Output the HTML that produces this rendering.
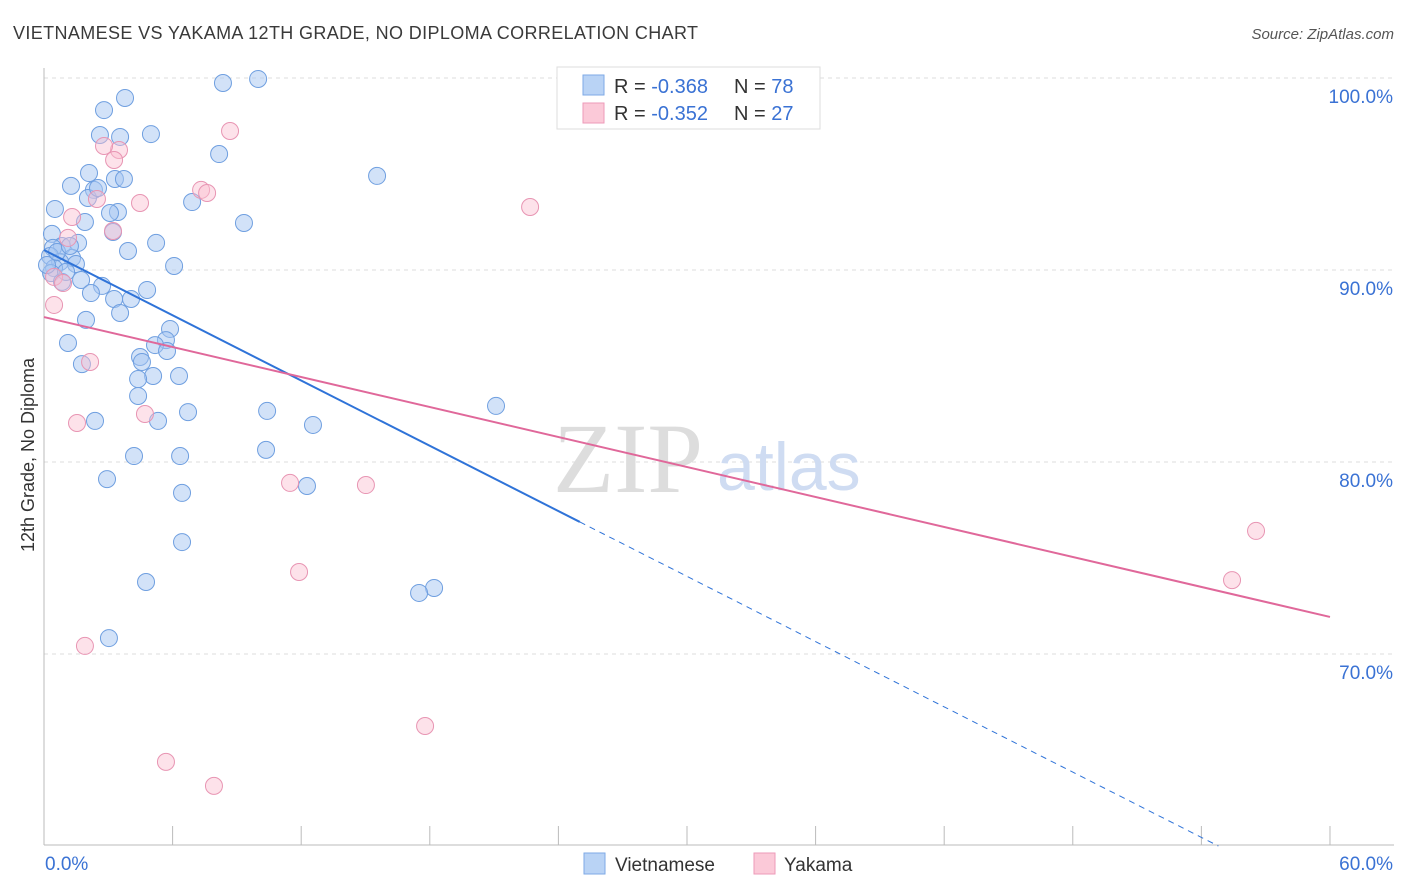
<!DOCTYPE html>
<html><head><meta charset="utf-8"><style>
body{margin:0;background:#fff;font-family:"Liberation Sans",sans-serif}
#wrap{position:relative;width:1406px;height:892px;overflow:hidden}
</style></head><body>
<div id="wrap">
<svg id="svg" width="1406" height="892" xmlns="http://www.w3.org/2000/svg">
<text x="13" y="39" font-size="18" fill="#3a3a3a" textLength="685" lengthAdjust="spacing">VIETNAMESE VS YAKAMA 12TH GRADE, NO DIPLOMA CORRELATION CHART</text>
<text x="1394" y="39" font-size="15" fill="#555" font-style="italic" text-anchor="end">Source: ZipAtlas.com</text>
<text transform="translate(34,455) rotate(-90)" font-size="18" fill="#333" text-anchor="middle">12th Grade, No Diploma</text>
<g id="grid"></g>
<text x="553" y="492" font-size="100" fill="#ddd" font-family="Liberation Serif,serif">ZIP</text>
<text x="717" y="490" font-size="68" fill="#cfdcf2">atlas</text>
<g id="pts"></g>
<g id="lines"></g>
<g>
<rect x="557" y="67" width="263" height="62" fill="#fff" stroke="#ddd"/>
<rect x="583" y="75" width="21" height="20" fill="#b9d3f5" stroke="#7eaae6"/>
<rect x="583" y="103" width="21" height="20" fill="#fbc9d8" stroke="#ee9ab8"/>
<text x="614" y="93" font-size="20" fill="#333">R = <tspan fill="#3a72d4">-0.368</tspan></text>
<text x="734" y="93" font-size="20" fill="#333">N = <tspan fill="#3a72d4">78</tspan></text>
<text x="614" y="120" font-size="20" fill="#333">R = <tspan fill="#3a72d4">-0.352</tspan></text>
<text x="734" y="120" font-size="20" fill="#333">N = <tspan fill="#3a72d4">27</tspan></text>
</g>
<g>
<rect x="584" y="853" width="21" height="21" fill="#b9d3f5" stroke="#7eaae6"/>
<text x="615" y="871" font-size="19" fill="#333">Vietnamese</text>
<rect x="754" y="853" width="21" height="21" fill="#fbc9d8" stroke="#ee9ab8"/>
<text x="784" y="871" font-size="19" fill="#333">Yakama</text>
</g>
</svg>
</div>
<script>
const blueX=[9.99,8.35,3.78,2.80,2.61,3.55,4.99,8.17,2.10,3.31,3.73,1.26,2.33,2.05,6.91,15.54,0.51,3.45,3.08,1.91,9.33,3.22,0.37,1.59,5.23,0.84,0.42,3.92,0.28,1.31,0.75,1.49,6.07,0.47,0.33,1.73,0.84,2.71,2.19,4.81,3.27,4.06,3.55,1.96,5.88,1.12,5.69,5.18,5.74,4.48,4.57,1.77,6.30,5.09,4.39,4.39,6.72,10.41,21.09,2.38,5.32,12.55,4.20,6.35,10.36,2.94,6.44,12.27,6.44,4.76,18.20,17.50,3.03,0.14,1.03,0.61,1.21,2.52];
const blueY=[99.95,99.74,98.96,98.33,97.03,96.93,97.08,96.04,95.05,94.74,94.74,94.38,94.17,93.75,93.54,94.90,93.18,93.02,92.97,92.50,92.45,91.98,91.88,91.41,91.41,91.25,91.15,90.99,90.73,90.63,90.42,90.31,90.21,90.10,89.84,89.48,89.38,89.17,88.80,88.96,88.49,88.49,87.76,87.40,86.93,86.20,86.35,86.09,85.78,85.47,85.21,85.10,84.48,84.48,84.32,83.44,82.60,82.66,82.92,82.14,82.14,81.93,80.31,80.31,80.63,79.11,78.39,78.75,75.83,73.75,73.44,73.18,70.83,90.26,89.90,90.94,91.25,94.27];
const pinkX=[8.68,3.50,2.80,3.27,7.33,7.61,4.48,2.47,1.31,3.22,1.12,0.47,0.89,0.47,2.15,4.71,1.54,11.48,15.02,11.90,22.68,56.55,55.43,1.91,17.78,5.69,7.93];
const pinkY=[97.24,96.25,96.46,95.73,94.17,94.01,93.49,93.70,92.76,92.03,91.67,89.64,89.32,88.18,85.21,82.50,82.03,78.91,78.80,74.27,93.28,76.41,73.85,70.42,66.25,64.38,63.13];
const blueTrend=[91.04,57.05];const blueSolidEnd=25.0;
const pinkTrend=[87.55,71.93];
const yTicks=[100,90,80,70];
const xTickVals=[0,6,12,18,24,30,36,42,48,54,60];
const NS="http://www.w3.org/2000/svg";
const sx=v=>44+v*21.433, sy=v=>78+(100-v)*19.2;
function mk(t,a,p){const e=document.createElementNS(NS,t);for(const k in a)e.setAttribute(k,a[k]);p.appendChild(e);return e;}
const grid=document.getElementById('grid');
yTicks.forEach(v=>{
 const l=mk('line',{x1:44,x2:1394,y1:sy(v),y2:sy(v),stroke:'#ddd','stroke-dasharray':'4,4'},grid);
 
 
 const t=mk('text',{x:1393,y:sy(v)+25,'font-size':19,fill:'#3a72d4','text-anchor':'end'},grid);t.textContent=v.toFixed(1)+'%';
 
 
});
const ax=mk('line',{x1:44,x2:44,y1:68,y2:845,stroke:'#bbb'},grid);


const bx=mk('line',{x1:44,x2:1394,y1:845,y2:845,stroke:'#bbb'},grid);


xTickVals.forEach(v=>{const l=mk('line',{x1:sx(v),x2:sx(v),y1:826,y2:845,stroke:'#bbb'},grid);
 
 });
const t0=mk('text',{x:45,y:870,'font-size':19,fill:'#3a72d4'},grid);t0.textContent='0.0%';


const t1=mk('text',{x:1393,y:870,'font-size':19,fill:'#3a72d4','text-anchor':'end'},grid);t1.textContent='60.0%';


const pts=document.getElementById('pts');
blueX.forEach((x,i)=>{const c=mk('circle',{cx:sx(x),cy:sy(blueY[i]),r:8.5,fill:'rgba(165,198,242,0.5)',stroke:'#6f9fe0','stroke-width':1},pts);
 
 });
pinkX.forEach((x,i)=>{const c=mk('circle',{cx:sx(x),cy:sy(pinkY[i]),r:8.5,fill:'rgba(250,190,208,0.45)',stroke:'#e895b3','stroke-width':1},pts);
 
 });
const lines=document.getElementById('lines');
const bAt=x=>blueTrend[0]+(blueTrend[1]-blueTrend[0])*x/60;
const l1=mk('line',{x1:sx(0),y1:sy(bAt(0)),x2:sx(blueSolidEnd),y2:sy(bAt(blueSolidEnd)),stroke:'#2f73d8','stroke-width':2},lines);


const xe=(blueTrend[0]-60)/(blueTrend[0]-blueTrend[1])*60;
const l2=mk('line',{x1:sx(blueSolidEnd),y1:sy(bAt(blueSolidEnd)),x2:sx(xe),y2:sy(bAt(xe)),stroke:'#2f73d8','stroke-width':1,'stroke-dasharray':'6,5'},lines);


const l3=mk('line',{x1:sx(0),y1:sy(pinkTrend[0]),x2:sx(60),y2:sy(pinkTrend[1]),stroke:'#e0689a','stroke-width':2},lines);


</script>
</body></html>
